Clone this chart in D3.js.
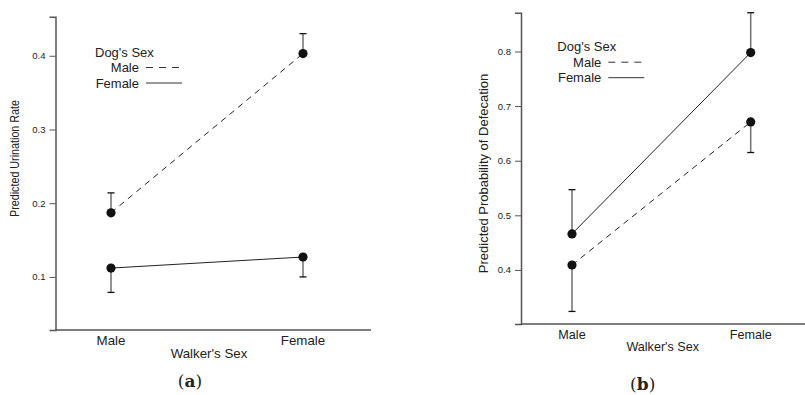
<!DOCTYPE html>
<html>
<head>
<meta charset="utf-8">
<script src="https://cdn.jsdelivr.net/npm/d3@7"></script>
<style>
  html, body { margin: 0; padding: 0; background: #fff; }
  svg { display: block; }
  text { font-family: "Liberation Sans", Arial, Helvetica, sans-serif; fill: #222; }
</style>
</head>
<body>
<svg id="chart" width="805" height="395"></svg>
<script>
// Walker's sex categories (x axis)
const walkerSex = ["Male", "Female"];

// Panel (a): predicted urination rate
const urinationMaleDog = [0.187, 0.403];
const urinationMaleDogUpper = [0.214, 0.430];
const urinationFemaleDog = [0.112, 0.127];
const urinationFemaleDogLower = [0.079, 0.100];
const urinationTicks = [0.1, 0.2, 0.3, 0.4];
const urinationDomain = [0.028, 0.453];

// Panel (b): predicted probability of defecation
const defecationMaleDog = [0.409, 0.671];
const defecationMaleDogLower = [0.324, 0.615];
const defecationFemaleDog = [0.466, 0.798];
const defecationFemaleDogUpper = [0.547, 0.871];
const defecationTicks = [0.4, 0.5, 0.6, 0.7, 0.8];
const defecationDomain = [0.301, 0.871];

const svg = d3.select("#chart");

function drawPanel(p) {
  const g = svg.append("g");

  const x = d3.scalePoint().domain(walkerSex).range(p.xPoints);
  const y = d3.scaleLinear().domain(p.domain).range([p.bottom, p.top]);

  // y axis
  const yAxis = g.append("g")
    .attr("transform", `translate(${p.left},0)`)
    .call(d3.axisLeft(y).tickValues(p.ticks).tickFormat(d3.format(".1f"))
      .tickSizeOuter(0).tickSize(6).tickPadding(4));
  yAxis.select(".domain").attr("stroke", "#555").attr("stroke-width", 1.5);
  yAxis.selectAll(".tick line").attr("stroke", "#555").attr("stroke-width", 1);
  yAxis.selectAll(".tick text")
    .style("font-family", '"Liberation Sans", Arial, sans-serif')
    .style("font-size", "9.5px").attr("fill", "#333");

  // x axis line
  g.append("line")
    .attr("x1", p.left).attr("x2", p.right)
    .attr("y1", p.bottom).attr("y2", p.bottom)
    .attr("stroke", "#555").attr("stroke-width", 1.5);

  // x category labels
  g.selectAll(".xlab").data(walkerSex).enter().append("text")
    .attr("x", d => x(d)).attr("y", p.xLabelY)
    .attr("text-anchor", "middle").attr("dy", "0.35em")
    .style("font-size", p.xFont + "px")
    .text(d => d);

  // axis titles
  g.append("text")
    .attr("x", (p.xTitleX)).attr("y", p.xTitleY)
    .attr("text-anchor", "middle").attr("dy", "0.35em")
    .style("font-size", p.xFont + "px")
    .text("Walker's Sex");
  const yt = g.append("text")
    .attr("transform", `translate(${p.yTitleX},${p.yTitleY}) rotate(-90)`)
    .attr("text-anchor", "middle").attr("dy", "0.35em")
    .style("font-size", p.yTitleFont + "px")
    .text(p.yTitle);
  if (p.yTitleLength) {
    yt.attr("textLength", p.yTitleLength).attr("lengthAdjust", "spacingAndGlyphs");
  }

  // series: line, one-sided error bars, dots
  p.series.forEach(s => {
    const pts = walkerSex.map((c, i) => ({ c, v: s.values[i], e: s.err[i] }));
    g.append("path")
      .datum(pts)
      .attr("fill", "none").attr("stroke", "#222").attr("stroke-width", 1)
      .attr("stroke-dasharray", s.dashed ? "6,5" : null)
      .attr("d", d3.line().x(d => x(d.c)).y(d => y(d.v)));

    pts.forEach(d => {
      g.append("line")
        .attr("x1", x(d.c)).attr("x2", x(d.c))
        .attr("y1", y(d.v)).attr("y2", y(d.e))
        .attr("stroke", "#777").attr("stroke-width", 1.6);
      g.append("line")
        .attr("x1", x(d.c) - 3.5).attr("x2", x(d.c) + 3.5)
        .attr("y1", y(d.e)).attr("y2", y(d.e))
        .attr("stroke", "#111").attr("stroke-width", 1.3);
    });

    g.selectAll(null).data(pts).enter().append("circle")
      .attr("cx", d => x(d.c)).attr("cy", d => y(d.v))
      .attr("r", 4.6).attr("fill", "#111");
  });

  // legend
  const lg = g.append("g");
  lg.append("text").attr("x", p.legX).attr("y", p.legY)
    .attr("dy", "0.35em").style("font-size", "13px").text("Dog's Sex");
  const legRows = [
    { label: "Male", dashed: true, len: 34 },
    { label: "Female", dashed: false, len: 36 }
  ];
  legRows.forEach((r, i) => {
    const yy = p.legY + p.legStep * (i + 1);
    lg.append("text").attr("x", p.legX + 44).attr("y", yy)
      .attr("dy", "0.35em").attr("text-anchor", "end")
      .style("font-size", "13px").text(r.label);
    lg.append("line")
      .attr("x1", p.legX + 51).attr("x2", p.legX + 51 + r.len)
      .attr("y1", yy).attr("y2", yy)
      .attr("stroke", "#333").attr("stroke-width", 1)
      .attr("stroke-dasharray", r.dashed ? "7,6" : null);
  });

  // panel caption
  const cap = g.append("text")
    .attr("x", p.capX).attr("y", p.capY)
    .attr("text-anchor", "middle").attr("dy", "0.35em")
    .style("font-family", '"DejaVu Serif", "Liberation Serif", serif')
    .style("font-size", "17px");
  cap.append("tspan").text("(");
  cap.append("tspan").style("font-weight", "bold").text(p.caption);
  cap.append("tspan").text(")");
}

drawPanel({
  left: 55.5, right: 371, top: 16.7, bottom: 330,
  xPoints: [111, 303],
  domain: urinationDomain, ticks: urinationTicks,
  xLabelY: 340.7, xTitleX: 209, xTitleY: 353, xFont: 13.3,
  yTitle: "Predicted Urination Rate", yTitleX: 15, yTitleY: 158.5,
  yTitleFont: 12.5, yTitleLength: 117,
  legX: 95, legY: 52, legStep: 15.5,
  capX: 190, capY: 381.5, caption: "a",
  series: [
    { values: urinationMaleDog, err: urinationMaleDogUpper, dashed: true },
    { values: urinationFemaleDog, err: urinationFemaleDogLower, dashed: false }
  ]
});

drawPanel({
  left: 521, right: 805, top: 12.7, bottom: 324,
  xPoints: [572, 750.7],
  domain: defecationDomain, ticks: defecationTicks,
  xLabelY: 335, xTitleX: 662.7, xTitleY: 347, xFont: 12.6,
  yTitle: "Predicted Probability of Defecation", yTitleX: 483, yTitleY: 173.5, yTitleFont: 13,
  legX: 557.3, legY: 46.7, legStep: 15.5,
  capX: 642.7, capY: 384, caption: "b",
  series: [
    { values: defecationFemaleDog, err: defecationFemaleDogUpper, dashed: false },
    { values: defecationMaleDog, err: defecationMaleDogLower, dashed: true }
  ]
});
</script>
</body>
</html>
